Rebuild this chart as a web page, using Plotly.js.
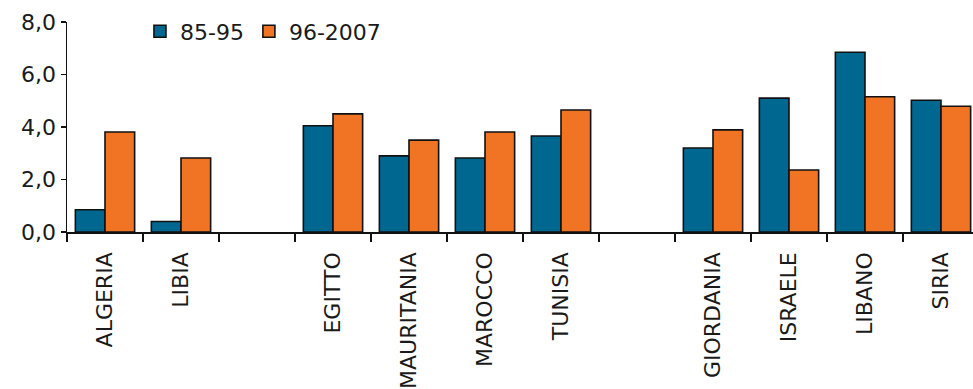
<!DOCTYPE html>
<html>
<head>
<meta charset="utf-8">
<script src="https://cdn.plot.ly/plotly-3.0.1.min.js"></script>
<style>
html,body{margin:0;padding:0;overflow:hidden;background:#fff;}
#chart{width:985px;height:389px;}
</style>
</head>
<body>
<div id="chart"></div>
<script>
const categories = ["ALGERIA", "LIBIA", " ", "EGITTO", "MAURITANIA", "MAROCCO", "TUNISIA", "  ", "GIORDANIA", "ISRAELE", "LIBANO", "SIRIA"];
const series1Name = "85-95";
const series1 = [0.85, 0.4, null, 4.05, 2.9, 2.82, 3.66, null, 3.2, 5.1, 6.85, 5.02];
const series2Name = "96-2007";
const series2 = [3.81, 2.82, null, 4.5, 3.5, 3.81, 4.65, null, 3.89, 2.36, 5.15, 4.79];
const yTicks = [0, 2, 4, 6, 8];

const fontFam = "'DejaVu Sans', sans-serif";
const txtCol = "#1a1a1a";
const traces = [
  {type: "bar", name: series1Name, x: categories, y: series1,
   marker: {color: "#006890", line: {color: "#111111", width: 1.6}}},
  {type: "bar", name: series2Name, x: categories, y: series2,
   marker: {color: "#f07424", line: {color: "#111111", width: 1.6}}}
];
const layout = {
  width: 985, height: 389,
  margin: {l: 67, r: 6, t: 22, b: 157},
  paper_bgcolor: "#fff", plot_bgcolor: "#fff",
  font: {family: fontFam, color: txtCol, size: 22},
  separators: ",.",
  barmode: "group",
  bargap: 0.22,
  bargroupgap: 0,
  showlegend: true,
  legend: {orientation: "h", x: 0.08, y: 1.055, xanchor: "left", yanchor: "top",
           font: {size: 22, family: fontFam, color: txtCol}, bgcolor: "rgba(0,0,0,0)", traceorder: "normal"},
  xaxis: {type: "category", categoryorder: "array", categoryarray: categories,
          showline: true, linecolor: "#111", linewidth: 1.5,
          ticks: "outside", ticklen: 8, tickcolor: "#111", tickwidth: 1.2, tickson: "boundaries",
          ticklabelstandoff: 10,
          tickangle: -90, tickfont: {size: 22, family: fontFam, color: txtCol},
          showgrid: false, zeroline: false, fixedrange: true},
  yaxis: {range: [0, 8], tickvals: yTicks, tickformat: ".1f",
          showline: true, linecolor: "#111", linewidth: 1.5,
          ticks: "outside", ticklen: 5, tickcolor: "#111", tickwidth: 1.2,
          tickfont: {size: 22, family: fontFam, color: txtCol},
          showgrid: false, zeroline: false, fixedrange: true}
};
Plotly.newPlot("chart", traces, layout, {displayModeBar: false, staticPlot: true});
</script>
</body>
</html>
